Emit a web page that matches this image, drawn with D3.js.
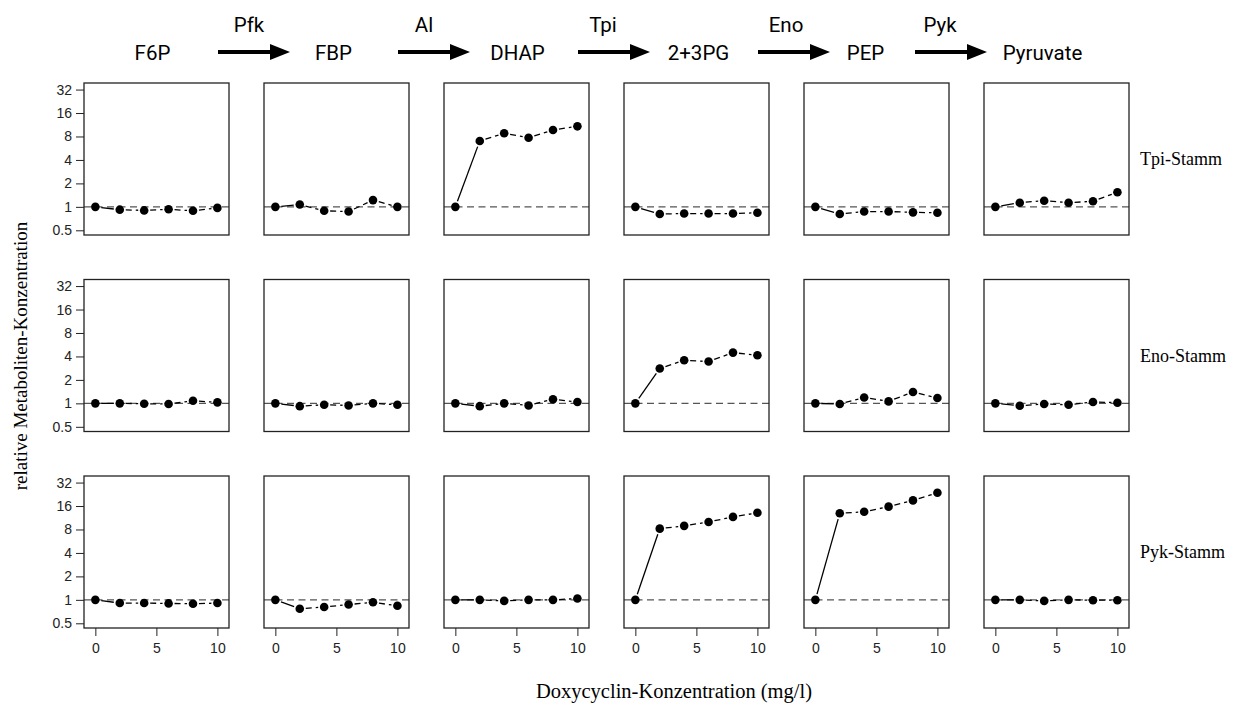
<!DOCTYPE html>
<html>
<head>
<meta charset="utf-8">
<script src="https://cdn.jsdelivr.net/npm/d3@7"></script>
<style>
  body { margin: 0; background: #fff; }
</style>
</head>
<body>
<div id="chart"></div>
<script>
// pathway labels
var metabolites = ["F6P", "FBP", "DHAP", "2+3PG", "PEP", "Pyruvate"];
var enzymes = ["Pfk", "Al", "Tpi", "Eno", "Pyk"];
var strains = ["Tpi-Stamm", "Eno-Stamm", "Pyk-Stamm"];

// doxycyclin concentrations (mg/l)
var doxy = [0, 2, 4, 6, 8, 10];
var xTicks = [0, 5, 10];
var yTicks = [0.5, 1, 2, 4, 8, 16, 32];

// relative concentrations, one row per metabolite
var tpiValues = [
  [1.0, 0.92, 0.9, 0.93, 0.89, 0.97],
  [1.0, 1.07, 0.89, 0.87, 1.22, 1.0],
  [1.0, 7.0, 8.8, 7.7, 9.7, 10.8],
  [1.0, 0.81, 0.82, 0.82, 0.82, 0.84],
  [1.0, 0.81, 0.87, 0.87, 0.85, 0.84],
  [1.0, 1.13, 1.2, 1.13, 1.18, 1.54]
];
var enoValues = [
  [1.0, 1.0, 0.99, 0.98, 1.08, 1.03],
  [1.0, 0.92, 0.96, 0.94, 1.0, 0.96],
  [1.0, 0.92, 1.0, 0.94, 1.13, 1.04],
  [1.0, 2.8, 3.57, 3.44, 4.48, 4.14],
  [1.0, 0.98, 1.19, 1.06, 1.4, 1.17],
  [1.0, 0.93, 0.98, 0.96, 1.04, 1.02]
];
var pykValues = [
  [1.0, 0.91, 0.91, 0.9, 0.89, 0.91],
  [1.0, 0.77, 0.81, 0.87, 0.93, 0.84],
  [1.0, 1.0, 0.97, 1.0, 1.0, 1.04],
  [1.0, 8.2, 8.9, 10.0, 11.6, 13.1],
  [1.0, 12.9, 13.5, 15.7, 18.9, 23.7],
  [1.0, 1.0, 0.97, 1.0, 0.99, 0.99]
];
var allValues = [tpiValues, enoValues, pykValues];

var width = 1252, height = 709;
var pw = 145, ph = 152;

var svg = d3.select("#chart")
  .append("svg")
    .attr("width", width)
    .attr("height", height);

// panel placement
var colX = d3.scaleLinear().domain([0, 5]).range([84, 984]);
var rowY = d3.scaleLinear().domain([0, 2]).range([83, 476]);

var x = d3.scaleLinear().domain([-0.93, 10.95]).range([0, pw]);
var y = d3.scaleLog().base(2).domain([Math.pow(2, -1.2), Math.pow(2, 5.28)]).range([ph, 0]);

var sans = "'Liberation Sans', Arial, sans-serif";
var serif = "'Liberation Serif', 'Times New Roman', serif";

// shortened segment, like R type="b"
function seg(p, q, gap) {
  var dx = q[0] - p[0], dy = q[1] - p[1];
  var len = Math.sqrt(dx * dx + dy * dy);
  if (len <= 2 * gap) return null;
  var ux = dx / len, uy = dy / len;
  return [p[0] + ux * gap, p[1] + uy * gap, q[0] - ux * gap, q[1] - uy * gap];
}

strains.forEach(function(strain, r) {
  metabolites.forEach(function(m, c) {
    var g = svg.append("g")
      .attr("transform", "translate(" + colX(c) + "," + rowY(r) + ")");

    // reference line at 1
    g.append("line")
      .attr("x1", 0).attr("x2", pw)
      .attr("y1", y(1)).attr("y2", y(1))
      .attr("stroke", "#555")
      .attr("stroke-width", 1.3)
      .attr("stroke-dasharray", "7,4.5");

    var vals = allValues[r][c];
    var pts = doxy.map(function(d, i) { return [x(d), y(vals[i])]; });

    for (var i = 0; i < pts.length - 1; i++) {
      var s = seg(pts[i], pts[i + 1], 6);
      if (!s) continue;
      g.append("line")
        .attr("x1", s[0]).attr("y1", s[1])
        .attr("x2", s[2]).attr("y2", s[3])
        .attr("stroke", "#000")
        .attr("stroke-width", 1.3)
        .attr("stroke-dasharray", i === 0 ? null : "6,4");
    }

    g.selectAll("circle")
      .data(pts)
      .enter()
      .append("circle")
        .attr("cx", function(d) { return d[0]; })
        .attr("cy", function(d) { return d[1]; })
        .attr("r", 4.3)
        .attr("fill", "#000");

    g.append("rect")
      .attr("width", pw).attr("height", ph)
      .attr("fill", "none")
      .attr("stroke", "#222")
      .attr("stroke-width", 1.3);

    if (c === 0) {
      var ya = g.append("g")
        .call(d3.axisLeft(y).tickValues(yTicks).tickSize(8).tickPadding(4)
          .tickFormat(function(d) { return d; }));
      ya.select(".domain").remove();
      ya.selectAll("text").attr("font-family", sans).attr("font-size", 14).attr("fill", "#222");
      ya.selectAll("line").attr("stroke", "#222");
    }
    if (r === 2) {
      var xa = g.append("g")
        .attr("transform", "translate(0," + ph + ")")
        .call(d3.axisBottom(x).tickValues(xTicks).tickSize(8).tickPadding(7));
      xa.select(".domain").remove();
      xa.selectAll("text").attr("font-family", sans).attr("font-size", 14).attr("fill", "#222");
      xa.selectAll("line").attr("stroke", "#222");
    }
  });

  svg.append("text")
    .attr("x", 1140)
    .attr("y", rowY(r) + ph / 2 + 6)
    .attr("font-family", serif)
    .attr("font-size", 18)
    .text(strain);
});

// pathway header
var headSans = "Roboto, 'Open Sans', sans-serif";
var labelShift = [-4, -3, 1, 2, -11, -14];
var enzShift = [0, -5, -6, -3, -29];
var arrowShift = [0, 0, 0, 0, -23];

svg.selectAll("text.metab")
  .data(metabolites)
  .enter()
  .append("text")
    .attr("class", "metab")
    .attr("x", function(d, i) { return colX(i) + pw / 2 + labelShift[i]; })
    .attr("y", 60)
    .attr("text-anchor", "middle")
    .attr("font-family", headSans)
    .attr("font-size", 20.5)
    .text(function(d) { return d; });

svg.selectAll("text.enz")
  .data(enzymes)
  .enter()
  .append("text")
    .attr("class", "enz")
    .attr("x", function(d, i) { return colX(i) + pw + 20 + enzShift[i]; })
    .attr("y", 32)
    .attr("text-anchor", "middle")
    .attr("font-family", headSans)
    .attr("font-size", 20.5)
    .text(function(d) { return d; });

var arrows = svg.selectAll("g.arrow")
  .data(enzymes)
  .enter()
  .append("g")
    .attr("class", "arrow")
    .attr("transform", function(d, i) { return "translate(" + (colX(i) + pw - 11 + arrowShift[i]) + ",52)"; });
arrows.append("line")
  .attr("x1", 0).attr("x2", 56)
  .attr("y1", 0).attr("y2", 0)
  .attr("stroke", "#000")
  .attr("stroke-width", 4);
arrows.append("path")
  .attr("d", "M52,-8 L72,0 L52,8 Z")
  .attr("fill", "#000");

// axis titles
svg.append("text")
  .attr("transform", "translate(27,356) rotate(-90)")
  .attr("text-anchor", "middle")
  .attr("font-family", serif)
  .attr("font-size", 19)
  .text("relative Metaboliten-Konzentration");

svg.append("text")
  .attr("x", 674)
  .attr("y", 698)
  .attr("text-anchor", "middle")
  .attr("font-family", serif)
  .attr("font-size", 20.5)
  .text("Doxycyclin-Konzentration (mg/l)");
</script>
</body>
</html>
